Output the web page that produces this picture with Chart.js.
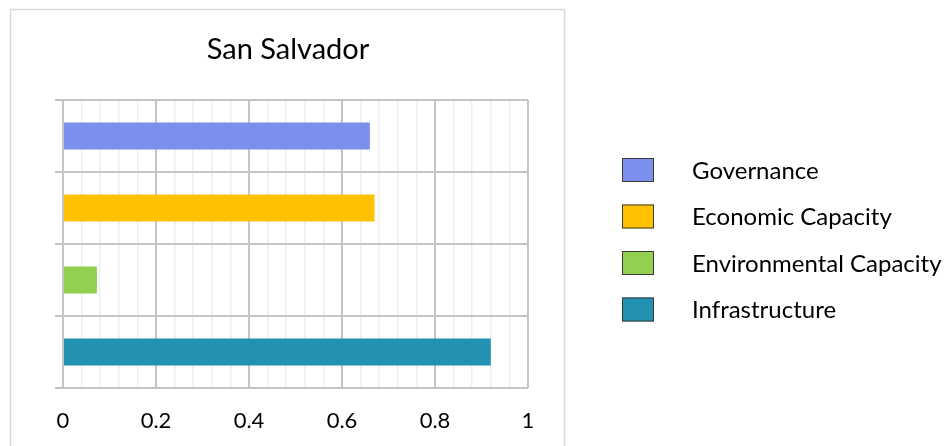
<!DOCTYPE html>
<html>
<head>
<meta charset="utf-8">
<script src="https://cdn.jsdelivr.net/npm/chart.js@4"></script>
<style>
  html, body { margin: 0; padding: 0; background: #fff; }
  canvas { display: block; }
</style>
</head>
<body>
<canvas id="chart" width="950" height="446"></canvas>
<script>
const chartTitle = 'San Salvador';
const categories = ['Governance', 'Economic Capacity', 'Environmental Capacity', 'Infrastructure'];
const scores = [0.66, 0.67, 0.073, 0.92];
const barColors = ['#7A8FEE', '#FFC000', '#92D050', '#2391B2'];
const majorTicks = [0, 0.2, 0.4, 0.6, 0.8, 1];

const FONT = 'Lato';

function isMajor(v) {
    return majorTicks.some(t => Math.abs(t - v) < 1e-6);
}

// frame + title + legend drawn by hand to mimic the Excel look
const decor = {
    id: 'decor',
    beforeDraw(chart) {
        const c = chart.ctx;
        c.save();
        c.fillStyle = '#fff';
        c.fillRect(0, 0, chart.width, chart.height);
        c.strokeStyle = '#d9d9d9';
        c.lineWidth = 1.5;
        c.beginPath();
        c.moveTo(10.5, 460);
        c.lineTo(10.5, 9.5);
        c.lineTo(564.5, 9.5);
        c.lineTo(564.5, 460);
        c.stroke();

        c.fillStyle = '#000';
        c.font = '29px ' + FONT;
        c.textAlign = 'center';
        c.textBaseline = 'middle';
        c.fillText(chartTitle, 288, 50);
        c.restore();
    },
    afterDraw(chart) {
        const c = chart.ctx;
        c.save();
        c.font = '24px ' + FONT;
        c.textBaseline = 'middle';
        c.textAlign = 'left';
        categories.forEach((name, i) => {
            const cy = 170 + i * 46.5;
            c.fillStyle = barColors[i];
            c.fillRect(622, cy - 12, 32, 24);
            c.strokeStyle = '#3a3a3a';
            c.lineWidth = 1;
            c.strokeRect(622.5, cy - 11.5, 31, 23);
            c.fillStyle = '#000';
            c.fillText(name, 692, cy + 1);
        });
        c.restore();
    }
};

new Chart(document.getElementById('chart'), {
    type: 'bar',
    data: {
        labels: categories,
        datasets: [{
            data: scores,
            backgroundColor: barColors,
            borderWidth: 0,
            categoryPercentage: 1,
            barPercentage: 0.375
        }]
    },
    options: {
        indexAxis: 'y',
        responsive: false,
        animation: false,
        layout: { padding: { left: 55, right: 422, top: 100, bottom: 0 } },
        plugins: {
            legend: { display: false },
            title: { display: false },
            tooltip: { enabled: false }
        },
        scales: {
            x: {
                min: 0,
                max: 1,
                afterFit(s) { s.height = 58; },
                border: { display: false },
                grid: {
                    drawTicks: false,
                    color: ctx => isMajor(ctx.tick.value) ? '#c4c4c4' : '#eeeeee',
                    lineWidth: ctx => isMajor(ctx.tick.value) ? 2 : 1.5
                },
                ticks: {
                    stepSize: 0.04,
                    autoSkip: false,
                    maxRotation: 0,
                    padding: 20,
                    color: '#000',
                    font: { family: FONT, size: 22 },
                    callback: v => isMajor(v) ? String(Math.round(v * 10) / 10) : ''
                }
            },
            y: {
                afterFit(s) { s.width = 8; },
                border: { color: '#c4c4c4', width: 2 },
                grid: {
                    offset: true,
                    color: '#c4c4c4',
                    lineWidth: 2,
                    tickLength: 8
                },
                ticks: { display: false }
            }
        }
    },
    plugins: [decor]
});
</script>
</body>
</html>
